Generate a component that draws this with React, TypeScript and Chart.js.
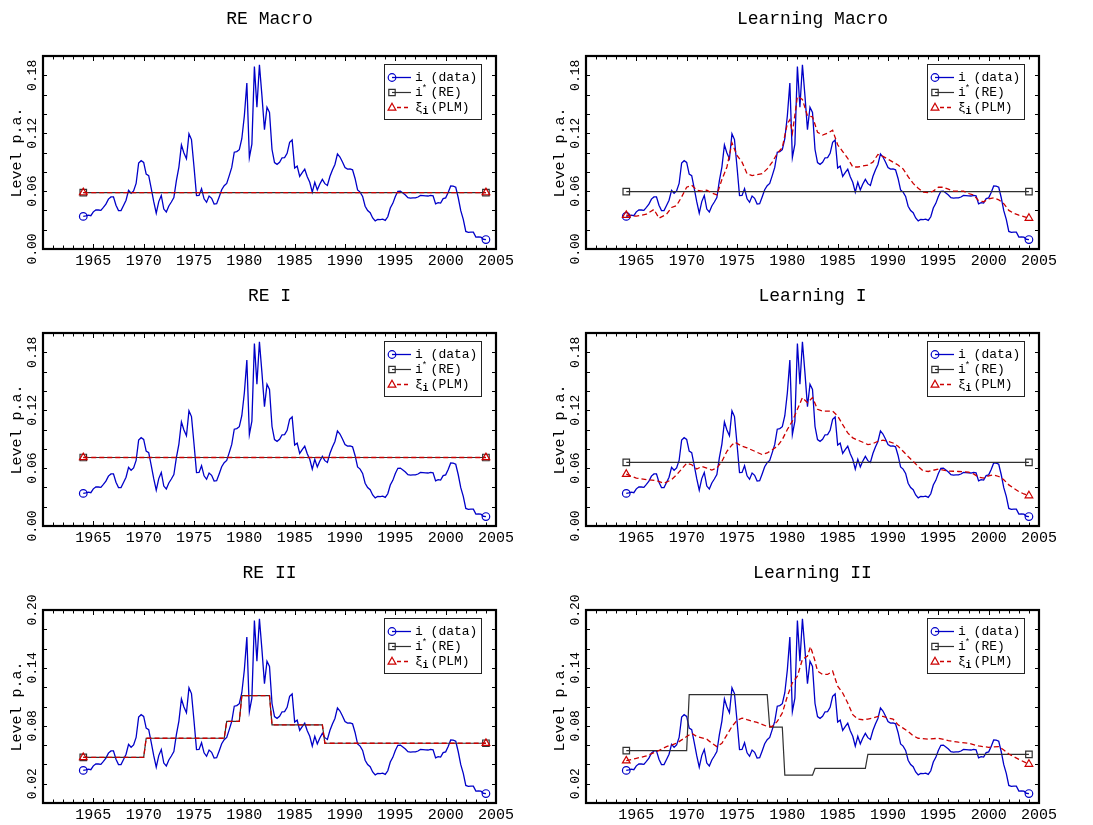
import React, { useEffect, useRef } from 'react';
import { Chart, registerables } from 'chart.js';

Chart.register(...registerables);

// Policy rate i (data), end-of-quarter observations, percent p.a. (1963Q4 .. 2003Q4)
const rate1960s = [3.38, 3.43, 3.5, 3.45, 3.85, 4.04, 4.04, 4.01, 4.32, 4.65, 5.17, 5.4, 5.4, 4.53, 3.98, 3.99, 4.51, 5.05, 6.07, 5.78, 6.02, 6.79, 8.9, 9.15, 8.97];
const rate1970s = [7.76, 7.6, 6.29, 4.9, 3.71, 4.91, 5.55, 4.14, 3.83, 4.46, 4.87, 5.33, 7.09, 8.49, 10.78, 9.95, 9.35, 11.93, 11.34, 8.53, 5.54, 5.55, 6.24, 5.2, 4.84, 5.48, 5.25, 4.65, 4.69, 5.39, 6.14, 6.56, 6.79, 7.6, 8.45, 10.03, 10.09, 10.29, 11.43, 13.78];
const rate1980s = [17.19, 9.47, 10.87, 18.9, 14.7, 19.1, 15.87, 12.37, 14.68, 14.15, 10.31, 8.95, 8.77, 8.98, 9.45, 9.47, 9.91, 11.06, 11.3, 8.38, 8.58, 7.53, 7.92, 8.27, 7.48, 6.92, 5.89, 6.91, 6.13, 6.73, 7.22, 6.77, 6.58, 7.51, 8.19, 8.76, 9.85, 9.53, 9.02, 8.45];
const rate1990s = [8.28, 8.29, 8.2, 7.31, 6.12, 5.9, 5.45, 4.43, 3.98, 3.76, 3.22, 2.92, 3.07, 3.04, 3.09, 2.96, 3.34, 4.25, 4.73, 5.45, 5.98, 6.0, 5.8, 5.6, 5.31, 5.27, 5.3, 5.29, 5.39, 5.56, 5.54, 5.5, 5.49, 5.56, 5.51, 4.68, 4.81, 4.76, 5.22, 5.3];
const rate2000s = [5.85, 6.53, 6.52, 6.4, 5.31, 3.97, 3.07, 1.82, 1.73, 1.75, 1.75, 1.24, 1.25, 1.22, 1.01, 0.98];
const firstObsYear = 1964; // plotted date of first observation, quarterly spacing

// i* (RE) and xi_i (PLM) paths: [year, level]
const reMacroStar: [number, number][] = [[1964, 0.0585], [2004, 0.0585]];
const reMacroPLM: [number, number][] = [[1964, 0.0585], [2004, 0.0585]];
const learnMacroStar: [number, number][] = [[1964, 0.0595], [2004, 0.0595]];
const learnMacroPLM: [number, number][] = [
  [1964, 0.035], [1965, 0.034], [1966, 0.036], [1966.75, 0.041], [1967.25, 0.032], [1968, 0.036], [1968.5, 0.043], [1969, 0.045], [1969.5, 0.054], [1970, 0.064],
  [1970.5, 0.066], [1971, 0.061], [1971.5, 0.06], [1972, 0.061], [1972.5, 0.058], [1973, 0.056], [1973.5, 0.072], [1974, 0.085], [1974.5, 0.11], [1975, 0.097],
  [1975.5, 0.09], [1976, 0.078], [1976.5, 0.076], [1977, 0.077], [1977.5, 0.078], [1978, 0.083], [1978.5, 0.09], [1979, 0.099], [1979.5, 0.105], [1980, 0.13],
  [1980.25, 0.134], [1980.5, 0.12], [1981, 0.158], [1981.5, 0.155], [1982, 0.138], [1982.5, 0.137], [1983, 0.121], [1983.5, 0.118], [1984, 0.12], [1984.5, 0.123],
  [1985, 0.108], [1985.5, 0.101], [1986, 0.094], [1986.5, 0.085], [1987, 0.085], [1987.5, 0.086], [1988, 0.087], [1988.5, 0.09], [1989, 0.098], [1989.5, 0.096],
  [1990, 0.093], [1990.5, 0.09], [1991, 0.087], [1991.5, 0.083], [1992, 0.075], [1992.5, 0.068], [1993, 0.063], [1993.5, 0.059], [1994, 0.0585], [1994.5, 0.06],
  [1995, 0.064], [1995.5, 0.064], [1996, 0.062], [1996.5, 0.06], [1997, 0.06], [1997.5, 0.06], [1998, 0.0575], [1998.5, 0.056], [1999, 0.05], [1999.5, 0.049],
  [2000, 0.052], [2000.5, 0.053], [2001, 0.051], [2001.5, 0.047], [2002, 0.04], [2002.5, 0.037], [2003, 0.035], [2003.5, 0.0335], [2004, 0.032],
];
const reIStar: [number, number][] = [[1964, 0.071], [2004, 0.071]];
const reIPLM: [number, number][] = [[1964, 0.071], [2004, 0.071]];
const learnIStar: [number, number][] = [[1964, 0.066], [2004, 0.066]];
const learnIPLM: [number, number][] = [
  [1964, 0.0537], [1965, 0.0496], [1966, 0.048], [1967, 0.047], [1967.75, 0.0443], [1968.5, 0.048], [1969, 0.053], [1969.5, 0.059], [1970, 0.065], [1970.5, 0.0635],
  [1971, 0.059], [1971.5, 0.0617], [1972, 0.06], [1972.5, 0.058], [1973, 0.06], [1973.5, 0.067], [1974, 0.0774], [1974.5, 0.084], [1974.8, 0.0868], [1975.5, 0.0826],
  [1976, 0.081], [1977, 0.0763], [1977.5, 0.074], [1978, 0.0757], [1978.5, 0.079], [1979, 0.0826], [1979.5, 0.0896], [1980, 0.1], [1980.5, 0.1087], [1981, 0.121],
  [1981.5, 0.133], [1982, 0.1278], [1982.5, 0.133], [1983, 0.121], [1983.5, 0.119], [1984, 0.119], [1984.5, 0.119], [1985, 0.114], [1985.5, 0.105], [1986, 0.0965],
  [1986.5, 0.0913], [1987, 0.089], [1987.5, 0.0868], [1988, 0.0843], [1988.5, 0.0854], [1989, 0.0878], [1989.5, 0.089], [1990, 0.0878], [1990.5, 0.086], [1991, 0.0826],
  [1991.5, 0.0774], [1992, 0.072], [1992.5, 0.067], [1993, 0.0617], [1993.5, 0.057], [1994, 0.0565], [1995, 0.059], [1995.5, 0.058], [1996, 0.057], [1997, 0.0565],
  [1998, 0.0558], [1998.5, 0.054], [1999, 0.0506], [1999.5, 0.0496], [2000, 0.052], [2000.5, 0.053], [2001, 0.0513], [2001.5, 0.048], [2002, 0.0426], [2002.5, 0.039],
  [2003, 0.0357], [2003.5, 0.0332], [2004, 0.0315],
];
const reIIStar: [number, number][] = [
  [1964, 0.0473], [1970, 0.0473], [1970.25, 0.0671], [1978, 0.0671], [1978.25, 0.0845], [1979.5, 0.0845],
  [1979.75, 0.1113], [1982.5, 0.1113], [1982.75, 0.081], [1987.75, 0.081], [1988, 0.0619], [2004, 0.0619],
];
const reIIPLM: [number, number][] = [
  [1964, 0.0473], [1970, 0.0473], [1970.25, 0.0671], [1978, 0.0671], [1978.25, 0.0845], [1979.5, 0.0845],
  [1979.75, 0.1113], [1982.5, 0.1113], [1982.75, 0.081], [1987.75, 0.081], [1988, 0.0619], [2004, 0.0619],
];
const learnIIStar: [number, number][] = [
  [1964, 0.0543], [1970, 0.0543], [1970.25, 0.1123], [1978, 0.1123], [1978.25, 0.0786], [1979.5, 0.0786],
  [1979.75, 0.0289], [1982.5, 0.0289], [1982.75, 0.0358], [1987.75, 0.0358], [1988, 0.0504], [2004, 0.0504],
];
const learnIIPLM: [number, number][] = [
  [1964, 0.0438], [1965, 0.0463], [1966, 0.0487], [1967, 0.0532], [1968, 0.0584], [1969, 0.0619], [1970, 0.0689], [1970.5, 0.0723], [1971, 0.0689], [1972, 0.0661],
  [1972.5, 0.0619], [1973, 0.0584], [1973.5, 0.0619], [1974, 0.0706], [1974.5, 0.0793], [1975, 0.0856], [1975.5, 0.088], [1976, 0.0863], [1977, 0.0835], [1978, 0.0793],
  [1978.5, 0.0793], [1979, 0.0845], [1979.5, 0.0932], [1980, 0.1106], [1980.5, 0.1245], [1981, 0.1315], [1981.5, 0.1489], [1982, 0.1523], [1982.3, 0.162], [1982.7, 0.149],
  [1983, 0.1367], [1983.5, 0.1332], [1984, 0.1332], [1984.5, 0.1367], [1985, 0.121], [1985.5, 0.114], [1986, 0.1037], [1986.5, 0.0915], [1987, 0.087], [1987.5, 0.0863],
  [1988, 0.087], [1988.5, 0.088], [1989, 0.0897], [1989.5, 0.0897], [1990, 0.088], [1990.5, 0.087], [1991, 0.081], [1991.5, 0.0776], [1992, 0.0741], [1992.5, 0.0696],
  [1993, 0.0671], [1994, 0.0661], [1995, 0.0671], [1996, 0.0647], [1997, 0.063], [1998, 0.0619], [1999, 0.0591], [2000, 0.0577], [2001, 0.0584], [2001.5, 0.055],
  [2002, 0.0508], [2003, 0.0452], [2004, 0.0403],
];

// Axis ticks
const xTickYears = [1965, 1970, 1975, 1980, 1985, 1990, 1995, 2000, 2005];
const yTicksUpper = [0.0, 0.06, 0.12, 0.18];
const yTicksLower = [0.02, 0.08, 0.14, 0.2];
const panelTitles = ['RE Macro', 'Learning Macro', 'RE I', 'Learning I', 'RE II', 'Learning II'];

const rateAll = [...rate1960s, ...rate1970s, ...rate1980s, ...rate1990s, ...rate2000s];
const rateData = rateAll.map((v, k) => ({ x: firstObsYear + k / 4, y: v / 100 }));
const toXY = (p: [number, number][]) => p.map(([x, y]) => ({ x, y }));

const FONT = '"Liberation Mono", "DejaVu Sans Mono", monospace';
const BLUE = '#0000c8';
const RED = '#cc0000';
const BLACK = '#303030';

const W = 546;
const H = 270;
const ROW_TOPS = [0, 277, 554];
const COL_LEFTS = [0, 543];

type PanelCfg = { title: string; star: [number, number][]; plm: [number, number][]; yTicks: number[]; row: number; col: number };

const panels: PanelCfg[] = [
  { title: panelTitles[0], star: reMacroStar, plm: reMacroPLM, yTicks: yTicksUpper, row: 0, col: 0 },
  { title: panelTitles[1], star: learnMacroStar, plm: learnMacroPLM, yTicks: yTicksUpper, row: 0, col: 1 },
  { title: panelTitles[2], star: reIStar, plm: reIPLM, yTicks: yTicksUpper, row: 1, col: 0 },
  { title: panelTitles[3], star: learnIStar, plm: learnIPLM, yTicks: yTicksUpper, row: 1, col: 1 },
  { title: panelTitles[4], star: reIIStar, plm: reIIPLM, yTicks: yTicksLower, row: 2, col: 0 },
  { title: panelTitles[5], star: learnIIStar, plm: learnIIPLM, yTicks: yTicksLower, row: 2, col: 1 },
];

const endPointRadius = (r: number) => (c: any) =>
  c.dataIndex === 0 || c.dataIndex === c.dataset.data.length - 1 ? r : 0;

function drawMarker(ctx: CanvasRenderingContext2D, kind: string, x: number, y: number, color: string) {
  ctx.save();
  ctx.strokeStyle = color;
  ctx.lineWidth = 1.2;
  ctx.setLineDash([]);
  ctx.beginPath();
  if (kind === 'circle') ctx.arc(x, y, 3.8, 0, Math.PI * 2);
  else if (kind === 'rect') ctx.rect(x - 3.2, y - 3.2, 6.4, 6.4);
  else {
    ctx.moveTo(x, y - 4.2);
    ctx.lineTo(x + 3.9, y + 2.6);
    ctx.lineTo(x - 3.9, y + 2.6);
    ctx.closePath();
  }
  ctx.stroke();
  ctx.restore();
}

function makeFramePlugin(cfg: PanelCfg) {
  return {
    id: 'frameAndText',
    afterDatasetsDraw(chart: any) {
      const { ctx, chartArea: a, scales } = chart;
      const xs = scales.x;
      const ys = scales.y;
      ctx.save();
      ctx.setLineDash([]);
      ctx.strokeStyle = '#000';
      ctx.fillStyle = '#000';
      ctx.lineWidth = 1;
      // minor ticks, inward
      for (let yr = 1961; yr < 2005; yr++) {
        const px = Math.round(xs.getPixelForValue(yr)) + 0.5;
        const len = yr % 5 === 0 ? 5 : 3.5;
        ctx.beginPath();
        ctx.moveTo(px, a.top);
        ctx.lineTo(px, a.top + len);
        ctx.moveTo(px, a.bottom);
        ctx.lineTo(px, a.bottom - len);
        ctx.stroke();
      }
      for (let k = 1; k < 10; k++) {
        const py = Math.round(ys.getPixelForValue(k * 0.02)) + 0.5;
        ctx.beginPath();
        ctx.moveTo(a.left, py);
        ctx.lineTo(a.left + 4, py);
        ctx.moveTo(a.right, py);
        ctx.lineTo(a.right - 4, py);
        ctx.stroke();
      }
      // frame
      ctx.lineWidth = 2.2;
      ctx.strokeRect(a.left, a.top, a.right - a.left, a.bottom - a.top);

      // x tick labels
      ctx.font = `15px ${FONT}`;
      ctx.textAlign = 'center';
      ctx.textBaseline = 'middle';
      xTickYears.forEach((yr) => {
        ctx.fillText(String(yr), xs.getPixelForValue(yr), a.bottom + 12);
      });
      // y tick labels (rotated)
      ctx.font = `13px ${FONT}`;
      cfg.yTicks.forEach((v) => {
        ctx.save();
        ctx.translate(a.left - 10, ys.getPixelForValue(v));
        ctx.rotate(-Math.PI / 2);
        ctx.fillText(v.toFixed(2), 0, 0);
        ctx.restore();
      });
      // y title
      ctx.font = `15px ${FONT}`;
      ctx.save();
      ctx.translate(17, (a.top + a.bottom) / 2);
      ctx.rotate(-Math.PI / 2);
      ctx.fillText('Level p.a.', 0, 0);
      ctx.restore();
      // panel title
      ctx.font = `18px ${FONT}`;
      ctx.fillText(cfg.title, (a.left + a.right) / 2, a.top - 37);

      // legend
      const lx = a.right - 112;
      const lt = a.top + 8;
      ctx.fillStyle = '#fff';
      ctx.fillRect(lx, lt, 97, 55);
      ctx.lineWidth = 1;
      ctx.strokeStyle = '#222';
      ctx.strokeRect(lx + 0.5, lt + 0.5, 97, 55);
      const rows = [lt + 13.5, lt + 28.5, lt + 43.5];
      const cw = 7.8;
      const tx = lx + 31;
      // row 1
      ctx.strokeStyle = BLUE;
      ctx.lineWidth = 1.3;
      ctx.beginPath();
      ctx.moveTo(lx + 8, rows[0]);
      ctx.lineTo(lx + 27, rows[0]);
      ctx.stroke();
      drawMarker(ctx, 'circle', lx + 8, rows[0], BLUE);
      // row 2
      ctx.strokeStyle = BLACK;
      ctx.lineWidth = 1.2;
      ctx.beginPath();
      ctx.moveTo(lx + 8, rows[1]);
      ctx.lineTo(lx + 27, rows[1]);
      ctx.stroke();
      drawMarker(ctx, 'rect', lx + 8, rows[1], BLACK);
      // row 3
      ctx.strokeStyle = RED;
      ctx.lineWidth = 1.3;
      ctx.setLineDash([4, 3]);
      ctx.beginPath();
      ctx.moveTo(lx + 13, rows[2]);
      ctx.lineTo(lx + 27, rows[2]);
      ctx.stroke();
      ctx.setLineDash([]);
      drawMarker(ctx, 'triangle', lx + 8, rows[2], RED);

      ctx.fillStyle = '#000';
      ctx.textAlign = 'left';
      ctx.font = `13px ${FONT}`;
      ctx.fillText('i', tx, rows[0]);
      ctx.fillText('(data)', tx + 2 * cw, rows[0]);
      ctx.fillText('i', tx, rows[1]);
      ctx.font = `9px ${FONT}`;
      ctx.fillText('*', tx + cw * 0.85, rows[1] - 4);
      ctx.font = `13px ${FONT}`;
      ctx.fillText('(RE)', tx + 2 * cw, rows[1]);
      ctx.fillText('\u03BE', tx, rows[2]);
      ctx.font = `bold 10px ${FONT}`;
      ctx.fillText('i', tx + cw * 0.95, rows[2] + 4);
      ctx.font = `13px ${FONT}`;
      ctx.fillText('(PLM)', tx + 2 * cw, rows[2]);
      ctx.restore();
    },
  };
}

function Panel({ cfg }: { cfg: PanelCfg }) {
  const ref = useRef<HTMLCanvasElement>(null);
  useEffect(() => {
    if (!ref.current) return;
    const chart = new Chart(ref.current, {
      type: 'line',
      data: {
        datasets: [
          {
            label: 'i (data)',
            data: rateData,
            borderColor: BLUE,
            borderWidth: 1.3,
            pointStyle: 'circle',
            pointRadius: endPointRadius(3.8),
            pointBorderColor: BLUE,
            pointBackgroundColor: 'rgba(0,0,0,0)',
            pointBorderWidth: 1.2,
            order: 3,
          },
          {
            label: 'i* (RE)',
            data: toXY(cfg.star),
            borderColor: BLACK,
            borderWidth: 1.2,
            pointStyle: 'rect',
            pointRadius: endPointRadius(4.6),
            pointBorderColor: BLACK,
            pointBackgroundColor: 'rgba(0,0,0,0)',
            pointBorderWidth: 1.2,
            order: 2,
          },
          {
            label: 'xi_i (PLM)',
            data: toXY(cfg.plm),
            borderColor: RED,
            borderWidth: 1.3,
            borderDash: [5, 3],
            pointStyle: 'triangle',
            pointRadius: endPointRadius(4.4),
            pointBorderColor: RED,
            pointBackgroundColor: 'rgba(0,0,0,0)',
            pointBorderWidth: 1.2,
            order: 1,
          },
        ],
      },
      options: {
        animation: false,
        responsive: false,
        devicePixelRatio: 1,
        events: [],
        layout: { padding: { left: 43, right: W - 496, top: 56, bottom: H - 249 } },
        elements: { line: { tension: 0 } },
        plugins: { legend: { display: false }, tooltip: { enabled: false }, title: { display: false } },
        scales: {
          x: { type: 'linear', min: 1960, max: 2005, display: false },
          y: { type: 'linear', min: 0, max: 0.2, display: false },
        },
      },
      plugins: [makeFramePlugin(cfg)],
    } as any);
    return () => chart.destroy();
  }, [cfg]);
  return (
    <canvas
      ref={ref}
      width={W}
      height={H}
      style={{ position: 'absolute', left: COL_LEFTS[cfg.col], top: ROW_TOPS[cfg.row], width: W, height: H }}
    />
  );
}

export default function App() {
  return (
    <div style={{ position: 'absolute', left: 0, top: 0, width: 1093, height: 825, background: '#fff', overflow: 'hidden' }}>
      {panels.map((p) => (
        <Panel key={p.title} cfg={p} />
      ))}
    </div>
  );
}
